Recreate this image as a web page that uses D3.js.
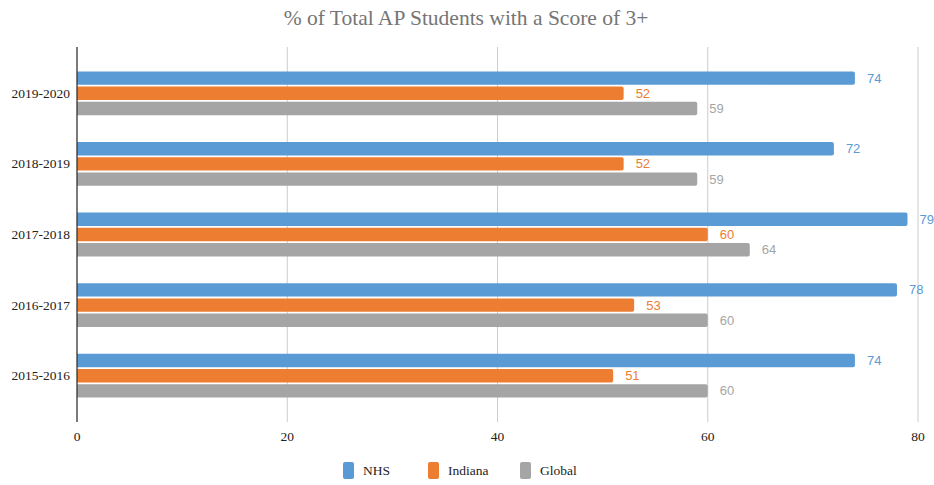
<!DOCTYPE html>
<html>
<head>
<meta charset="utf-8">
<script src="https://cdn.jsdelivr.net/npm/d3@7"></script>
<style>
  body { margin: 0; background: #fff; }
  text { font-family: "Liberation Serif", "DejaVu Serif", serif; }
  text.value { font-family: "Liberation Sans", Arial, sans-serif; }
</style>
</head>
<body>
<svg></svg>
<script>
//svg size
const width = 934;
const height = 485;

//data
var years = ['2019-2020', '2018-2019', '2017-2018', '2016-2017', '2015-2016'];
var seriesNames = ['NHS', 'Indiana', 'Global'];
var nhs = [74, 72, 79, 78, 74];
var indiana = [52, 52, 60, 53, 51];
var global = [59, 59, 64, 60, 60];
var xTicks = [0, 20, 40, 60, 80];

//colours
var colors = ['#5b9bd5', '#ed7d31', '#a5a5a5'];
var labelColors = ['#5b9bd5', '#ed7d31', '#a5a5a5'];

var svg = d3.select('svg')
    .attr('width', width)
    .attr('height', height);

//scales
var x = d3.scaleLinear().domain([0, 80]).range([77, 918]);
var y = d3.scaleBand().domain(years).range([58, 411]).paddingInner(0.38).paddingOuter(0.19);
var y2 = d3.scaleBand().domain(seriesNames).range([0, y.bandwidth()]).paddingInner(0.12);

var plotTop = 47, plotBottom = 422;

//title
svg.append('text')
   .attr('x', 466)
   .attr('y', 25)
   .attr('text-anchor', 'middle')
   .attr('fill', '#757575')
   .style('font-size', '21.5px')
   .text('% of Total AP Students with a Score of 3+');

//grid lines
svg.append('g')
   .selectAll('line')
   .data(xTicks.slice(1))
   .join('line')
   .attr('x1', d => x(d))
   .attr('x2', d => x(d))
   .attr('y1', plotTop)
   .attr('y2', plotBottom)
   .attr('stroke', '#cccccc')
   .attr('stroke-width', 1);

//x tick labels
svg.append('g')
   .selectAll('text')
   .data(xTicks)
   .join('text')
   .attr('x', d => x(d))
   .attr('y', 441)
   .attr('text-anchor', 'middle')
   .attr('fill', '#222')
   .style('font-size', '13.5px')
   .text(d => d);

//bars
var data = [nhs, indiana, global];
var groups = svg.append('g');
years.forEach(function(yr, i) {
    seriesNames.forEach(function(s, k) {
        var v = data[k][i];
        var by = y(yr) + y2(s);
        var bw = x(v) - x(0);
        var h = y2.bandwidth();
        groups.append('path')
              .attr('d', 'M' + x(0) + ',' + by + 'h' + (bw - 2) + 'a2,2 0 0 1 2,2v' + (h - 4) + 'a2,2 0 0 1 -2,2h' + (-(bw - 2)) + 'z')
              .attr('fill', colors[k]);
        groups.append('text')
              .attr('class', 'value')
              .attr('x', x(v) + 12)
              .attr('y', by + h / 2 + 4.5)
              .attr('fill', labelColors[k])
              .style('font-size', '13px')
              .text(v);
    });
});

//axis line
svg.append('line')
   .attr('x1', x(0))
   .attr('x2', x(0))
   .attr('y1', plotTop)
   .attr('y2', plotBottom)
   .attr('stroke', '#333')
   .attr('stroke-width', 1.3);

//category labels
svg.append('g')
   .selectAll('text')
   .data(years)
   .join('text')
   .attr('x', 70)
   .attr('y', d => y(d) + y.bandwidth() / 2 + 4.5)
   .attr('text-anchor', 'end')
   .attr('fill', '#222')
   .style('font-size', '13.5px')
   .text(d => d);

//legend
var legendX = [343, 428, 520];
var legend = svg.append('g');
seriesNames.forEach(function(s, k) {
    legend.append('rect')
          .attr('x', legendX[k])
          .attr('y', 462)
          .attr('width', 11)
          .attr('height', 17)
          .attr('rx', 2)
          .attr('fill', colors[k]);
    legend.append('text')
          .attr('x', legendX[k] + 20)
          .attr('y', 475)
          .attr('fill', '#222')
          .style('font-size', '13.5px')
          .text(s);
});
</script>
</body>
</html>
